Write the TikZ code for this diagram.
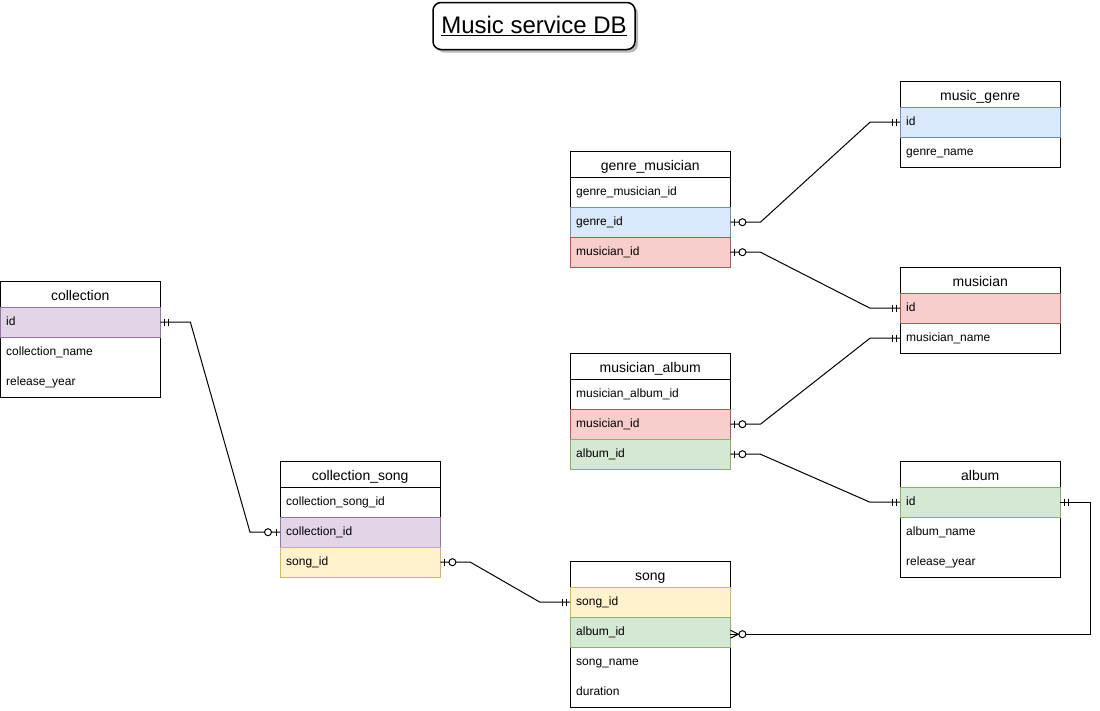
\documentclass[tikz,border=0pt]{standalone}
\usepackage{fontspec}
\setmainfont{Liberation Sans}
\usetikzlibrary{calc,shadows}
\definecolor{bluef}{HTML}{DAE8FC}\definecolor{blued}{HTML}{6C8EBF}
\definecolor{redf}{HTML}{F8CECC}\definecolor{redd}{HTML}{B85450}
\definecolor{purf}{HTML}{E1D5E7}\definecolor{purd}{HTML}{9673A6}
\definecolor{yelf}{HTML}{FFF2CC}\definecolor{yeld}{HTML}{D6B656}
\definecolor{grnf}{HTML}{D5E8D4}\definecolor{grnd}{HTML}{82B366}
\tikzset{
  hdr/.style={draw=black, fill=white, minimum width=160pt, minimum height=26pt, inner sep=0pt, text height=13pt, text depth=0pt, anchor=north west, font=\fontsize{14}{16}\selectfont},
  row/.style={minimum height=30pt, text width=148pt, inner xsep=6pt, inner ysep=0pt, text height=8.5pt, text depth=2.5pt, anchor=north west, align=left, font=\fontsize{12}{14}\selectfont},
  blue/.style={row, draw=blued, fill=bluef},
  red/.style={row, draw=redd, fill=redf},
  pur/.style={row, draw=purd, fill=purf},
  yel/.style={row, draw=yeld, fill=yelf},
  grn/.style={row, draw=grnd, fill=grnf},
  tblbox/.style={draw=black, line width=1pt},
  conn/.style={draw=black, line width=1pt},
  titlebox/.style={draw=black, fill=white, line width=1.5pt, rounded corners=8pt, minimum width=202pt, minimum height=47pt, font=\fontsize{24}{28}\selectfont, drop shadow={shadow xshift=3pt, shadow yshift=-3pt, fill=black!35, opacity=0.8}}
}
\newcommand{\mandone}[2]{\draw[conn] ($(#1)+(#2*4,-3.5)$) -- ++(0,7) ($(#1)+(#2*8,-3.5)$) -- ++(0,7);}
\newcommand{\zeroone}[2]{\draw[conn] ($(#1)+(#2*4,-3.5)$) -- ++(0,7); \draw[conn,fill=white] ($(#1)+(#2*12,0)$) circle[radius=3.5pt];}
\newcommand{\zeromany}[2]{\draw[conn] ($(#1)+(0,-4)$) -- ($(#1)+(#2*8,0)$) -- ($(#1)+(0,4)$); \draw[conn,fill=white] ($(#1)+(#2*12,0)$) circle[radius=3.5pt];}
\begin{document}
\begin{tikzpicture}[x=1pt,y=-1pt]
\useasboundingbox (0,0) rectangle (1100,710);
% title
\node[titlebox] (title) at (534,26) {\underline{Music service DB}};
% collection
\node[hdr] (col) at (0,281) {collection};
\node[row] (col-name) at (0,337) {collection\_name};
\node[row] (col-year) at (0,367) {release\_year};
\draw[tblbox] (col.north west) rectangle (col-year.south east);
\node[pur] (col-id) at (0,307) {id};
% collection_song
\node[hdr] (cs) at (280,461) {collection\_song};
\node[row] (cs-id) at (280,487) {collection\_song\_id};
\node[row, minimum height=90pt] (cs-all) at (280,487) {};
\draw[tblbox] (cs.north west) rectangle (cs-all.south east);
\node[pur] (cs-cid) at (280,517) {collection\_id};
\node[yel] (cs-sid) at (280,547) {song\_id};
% song
\node[hdr] (song) at (570,561) {song};
\node[row] (song-name) at (570,647) {song\_name};
\node[row] (song-dur) at (570,677) {duration};
\draw[tblbox] (song.north west) rectangle (song-dur.south east);
\node[yel] (song-id) at (570,587) {song\_id};
\node[grn] (song-alb) at (570,617) {album\_id};
\coordinate (song-alb-in) at ($(song-alb.east)+(0,2)$);
% genre_musician
\node[hdr] (gm) at (570,151) {genre\_musician};
\node[row] (gm-id) at (570,177) {genre\_musician\_id};
\node[row, minimum height=90pt] (gm-all) at (570,177) {};
\draw[tblbox] (gm.north west) rectangle (gm-all.south east);
\node[blue] (gm-gid) at (570,207) {genre\_id};
\node[red] (gm-mid) at (570,237) {musician\_id};
% musician_album
\node[hdr] (ma) at (570,353) {musician\_album};
\node[row] (ma-id) at (570,379) {musician\_album\_id};
\node[row, minimum height=90pt] (ma-all) at (570,379) {};
\draw[tblbox] (ma.north west) rectangle (ma-all.south east);
\node[red] (ma-mid) at (570,409) {musician\_id};
\node[grn] (ma-aid) at (570,439) {album\_id};
% music_genre
\node[hdr] (mg) at (900,81) {music\_genre};
\node[row] (mg-name) at (900,137) {genre\_name};
\draw[tblbox] (mg.north west) rectangle (mg-name.south east);
\node[blue] (mg-id) at (900,107) {id};
% musician
\node[hdr] (mu) at (900,267) {musician};
\node[row] (mu-name) at (900,323) {musician\_name};
\draw[tblbox] (mu.north west) rectangle (mu-name.south east);
\node[red] (mu-id) at (900,293) {id};
% album
\node[hdr] (al) at (900,461) {album};
\node[row] (al-name) at (900,517) {album\_name};
\node[row] (al-year) at (900,547) {release\_year};
\draw[tblbox] (al.north west) rectangle (al-year.south east);
\node[grn] (al-id) at (900,487) {id};
% connectors
\draw[conn] (col-id.east) -- ++(30,0) -- ($(cs-cid.west)+(-30,0)$) -- (cs-cid.west);
\draw[conn] (cs-sid.east) -- ++(30,0) -- ($(song-id.west)+(-30,0)$) -- (song-id.west);
\draw[conn] (gm-gid.east) -- ++(30,0) -- ($(mg-id.west)+(-30,0)$) -- (mg-id.west);
\draw[conn] (gm-mid.east) -- ++(30,0) -- ($(mu-id.west)+(-30,0)$) -- (mu-id.west);
\draw[conn] (ma-mid.east) -- ++(30,0) -- ($(mu-name.west)+(-30,0)$) -- (mu-name.west);
\draw[conn] (ma-aid.east) -- ++(30,0) -- ($(al-id.west)+(-30,0)$) -- (al-id.west);
\draw[conn] (al-id.east) -- ++(30,0) |- (song-alb-in);
% markers
\mandone{col-id.east}{1}
\zeroone{cs-cid.west}{-1}
\zeroone{cs-sid.east}{1}
\mandone{song-id.west}{-1}
\zeroone{gm-gid.east}{1}
\mandone{mg-id.west}{-1}
\zeroone{gm-mid.east}{1}
\mandone{mu-id.west}{-1}
\zeroone{ma-mid.east}{1}
\mandone{mu-name.west}{-1}
\zeroone{ma-aid.east}{1}
\mandone{al-id.west}{-1}
\mandone{al-id.east}{1}
\zeromany{song-alb-in}{1}
\end{tikzpicture}
\end{document}
